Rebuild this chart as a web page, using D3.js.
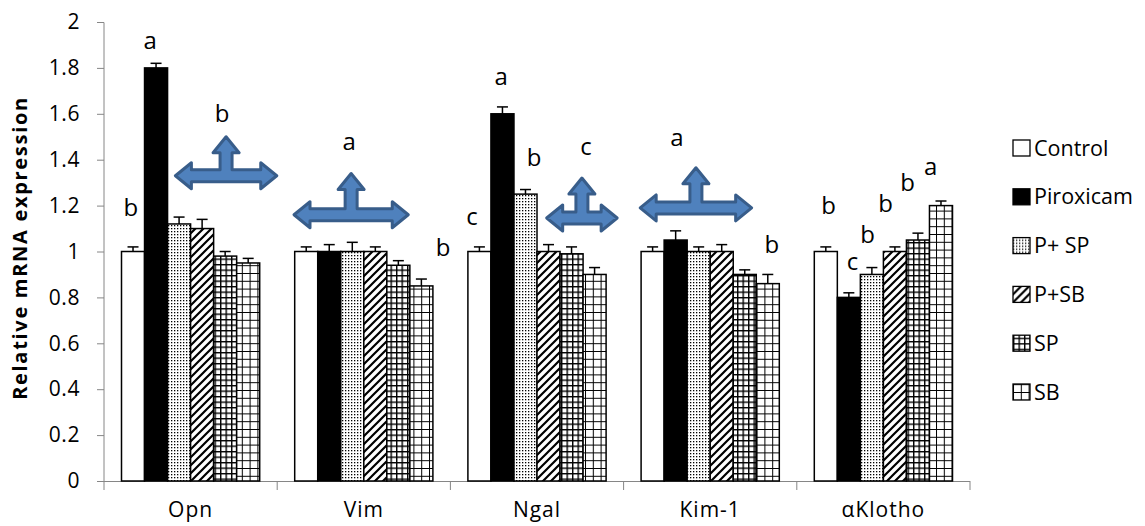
<!DOCTYPE html>
<html>
<head>
<meta charset="utf-8">
<script src="https://cdn.jsdelivr.net/npm/d3@7"></script>
<style>
  body { margin: 0; background: #fff; }
  text { font-family: "Open Sans", "DejaVu Sans", sans-serif; fill: #000; }
</style>
</head>
<body>
<script>
// values
const categories = ["Opn", "Vim", "Ngal", "Kim-1", "αKlotho"];
const seriesNames = ["Control", "Piroxicam", "P+ SP", "P+SB", "SP", "SB"];

const control   = [1.00, 1.00, 1.00, 1.00, 1.00];
const piroxicam = [1.80, 1.00, 1.60, 1.05, 0.80];
const pSP       = [1.12, 1.00, 1.25, 1.00, 0.90];
const pSB       = [1.10, 1.00, 1.00, 1.00, 1.00];
const sp        = [0.98, 0.94, 0.99, 0.90, 1.05];
const sb        = [0.95, 0.85, 0.90, 0.86, 1.20];

const controlErr   = [0.02, 0.02, 0.02, 0.02, 0.02];
const piroxicamErr = [0.02, 0.03, 0.03, 0.04, 0.02];
const pSPErr       = [0.03, 0.04, 0.02, 0.02, 0.03];
const pSBErr       = [0.04, 0.02, 0.03, 0.03, 0.02];
const spErr        = [0.02, 0.02, 0.03, 0.02, 0.03];
const sbErr        = [0.02, 0.03, 0.03, 0.04, 0.02];

const yTicks = [0, 0.2, 0.4, 0.6, 0.8, 1, 1.2, 1.4, 1.6, 1.8, 2];

// significance letters: category, position in bar units, height in data units
const letterCat = [0, 0, 0, 1, 1, 2, 2, 2, 2, 3, 3, 4, 4, 4, 4, 4, 4];
const letterPos = [-0.09, 0.74, 3.87, 1.86, 5.94, -0.32, 0.94, 2.37, 4.63, 1.06, 5.18, 0.12, 1.16, 1.81, 2.6, 3.55, 4.55];
const letterVal = [1.19, 1.92, 1.6, 1.48, 1.015, 1.15, 1.76, 1.41, 1.455, 1.495, 1.03, 1.2, 0.955, 1.075, 1.21, 1.3, 1.37];
const letterTxt = ["b", "a", "b", "a", "b", "c", "a", "b", "c", "a", "b", "b", "c", "b", "b", "b", "a"];

// three-way arrows: category, centre (bar units), half span (bar units), shaft level, tip level
const arrowCat  = [0, 1, 2, 3];
const arrowPos  = [4.04, 1.95, 4.45, 1.88];
const arrowSpan = [2.2, 2.48, 1.53, 2.42];
const arrowVal  = [1.33, 1.16, 1.146, 1.19];
const arrowTip  = [1.50, 1.34, 1.32, 1.365];

const values = [control, piroxicam, pSP, pSB, sp, sb];
const errors = [controlErr, piroxicamErr, pSPErr, pSBErr, spErr, sbErr];
const fills = ["#fff", "#000", "url(#dots)", "url(#diag)", "url(#smallgrid)", "url(#biggrid)"];

const W = 1145, H = 526;
const svg = d3.select(document.body).append("svg")
  .attr("width", W).attr("height", H);

// fill patterns
const defs = svg.append("defs");
const dots = defs.append("pattern").attr("id", "dots")
  .attr("patternUnits", "userSpaceOnUse").attr("width", 3).attr("height", 3);
dots.append("rect").attr("width", 3).attr("height", 3).attr("fill", "#fff");
dots.append("rect").attr("width", 1.3).attr("height", 1.3).attr("fill", "#000");

const diag = defs.append("pattern").attr("id", "diag")
  .attr("patternUnits", "userSpaceOnUse").attr("width", 8).attr("height", 8);
diag.append("rect").attr("width", 8).attr("height", 8).attr("fill", "#fff");
diag.append("path").attr("d", "M-2,10 L10,-2 M-6,6 L6,-6 M2,14 L14,2")
  .attr("stroke", "#000").attr("stroke-width", 2.2);

const sg = defs.append("pattern").attr("id", "smallgrid")
  .attr("patternUnits", "userSpaceOnUse").attr("width", 5.5).attr("height", 5.5);
sg.append("rect").attr("width", 5.5).attr("height", 5.5).attr("fill", "#fff");
sg.append("path").attr("d", "M0,0.7 H5.5 M0.7,0 V5.5")
  .attr("stroke", "#000").attr("stroke-width", 1.4);

const bg = defs.append("pattern").attr("id", "biggrid")
  .attr("patternUnits", "userSpaceOnUse").attr("width", 7.8).attr("height", 7.8);
bg.append("rect").attr("width", 7.8).attr("height", 7.8).attr("fill", "#fff");
bg.append("path").attr("d", "M0,0.5 H7.8 M0.5,0 V7.8")
  .attr("stroke", "#000").attr("stroke-width", 1);

// scales
const x0 = d3.scaleBand().domain(categories).range([104, 970]).padding(0);
const x1 = d3.scaleBand().domain(seriesNames).range([17.5, x0.bandwidth() - 17.5]).padding(0);
const y = d3.scaleLinear().domain([0, 2]).range([481, 22]);
const barX = (c, i) => x0(categories[c]) + x1.step() * i + x1(seriesNames[0]) + x1.bandwidth() / 2;

// y axis
const yAxis = svg.append("g").attr("transform", "translate(104,0)")
  .call(d3.axisLeft(y).tickValues(yTicks).tickFormat(d3.format(".1~f")).tickSize(7).tickPadding(17));
yAxis.selectAll("path,line").attr("stroke", "#868686");
yAxis.selectAll("text").attr("font-size", 21).attr("letter-spacing", 0.6)
  .attr("font-family", "Open Sans").attr("fill", "#000");
yAxis.select(".domain").attr("d", "M-7,22.5H0V481");

// x axis
const xg = svg.append("g");
xg.append("line").attr("x1", 104).attr("x2", 970).attr("y1", 481.5).attr("y2", 481.5)
  .attr("stroke", "#868686");
xg.selectAll(".tk").data(d3.range(categories.length + 1)).enter().append("line")
  .attr("x1", i => i < categories.length ? x0(categories[i]) : x0.range()[1])
  .attr("x2", i => i < categories.length ? x0(categories[i]) : x0.range()[1])
  .attr("y1", 481).attr("y2", 490).attr("stroke", "#868686");
xg.selectAll(".cl").data(categories).enter().append("text")
  .attr("x", d => x0(d) + x0.bandwidth() / 2).attr("y", 517)
  .attr("text-anchor", "middle").attr("font-size", 21).attr("letter-spacing", 1)
  .text(d => d);

// y title
svg.append("text").attr("transform", "translate(27,248) rotate(-90)")
  .attr("text-anchor", "middle").attr("font-weight", "bold").attr("font-size", 20)
  .attr("letter-spacing", 1.7)
  .text("Relative mRNA expression");

// bars
const rows = [];
categories.forEach((c, ci) => seriesNames.forEach((s, si) => {
  rows.push({c, s, si, v: values[si][ci], e: errors[si][ci]});
}));
const bars = svg.append("g");
bars.selectAll("rect").data(rows).enter().append("rect")
  .attr("x", d => x0(d.c) + x1(d.s))
  .attr("y", d => y(d.v))
  .attr("width", x1.bandwidth())
  .attr("height", d => y(0) - y(d.v))
  .attr("fill", d => fills[d.si])
  .attr("stroke", "#000").attr("stroke-width", 1.5);

// error bars (upper only)
const eb = svg.append("g").attr("stroke", "#000").attr("stroke-width", 1.5);
eb.selectAll(".v").data(rows).enter().append("line")
  .attr("x1", d => x0(d.c) + x1(d.s) + x1.bandwidth() / 2)
  .attr("x2", d => x0(d.c) + x1(d.s) + x1.bandwidth() / 2)
  .attr("y1", d => y(d.v)).attr("y2", d => y(d.v + d.e));
eb.selectAll(".h").data(rows).enter().append("line")
  .attr("x1", d => x0(d.c) + x1(d.s) + x1.bandwidth() / 2 - 5.5)
  .attr("x2", d => x0(d.c) + x1(d.s) + x1.bandwidth() / 2 + 5.5)
  .attr("y1", d => y(d.v + d.e)).attr("y2", d => y(d.v + d.e));

// letters
svg.append("g").selectAll("text").data(letterTxt).enter().append("text")
  .attr("x", (d, i) => barX(letterCat[i], letterPos[i]))
  .attr("y", (d, i) => y(letterVal[i]))
  .attr("dy", "0.35em")
  .attr("text-anchor", "middle").attr("font-size", 24)
  .text(d => d);

// arrows
const arrowPath = (cx, cy, hw, top) => {
  const t = 6, hh = 13, hl = 16;
  const p = [
    [cx - hw, cy], [cx - hw + hl, cy - hh], [cx - hw + hl, cy - t], [cx - t, cy - t],
    [cx - t, top + hl], [cx - hh, top + hl], [cx, top], [cx + hh, top + hl], [cx + t, top + hl],
    [cx + t, cy - t], [cx + hw - hl, cy - t], [cx + hw - hl, cy - hh], [cx + hw, cy],
    [cx + hw - hl, cy + hh], [cx + hw - hl, cy + t], [cx - hw + hl, cy + t], [cx - hw + hl, cy + hh]
  ];
  return "M" + p.map(q => q.join(",")).join("L") + "Z";
};
svg.append("g").selectAll("path").data(arrowCat).enter().append("path")
  .attr("d", (d, i) => {
    const cx = barX(d, arrowPos[i]);
    const hw = arrowSpan[i] * x1.step();
    return arrowPath(cx, y(arrowVal[i]), hw, y(arrowTip[i]));
  })
  .attr("fill", "#4F81BD").attr("stroke", "#385D8A").attr("stroke-width", 3)
  .attr("stroke-linejoin", "round");

// legend
const lg = svg.append("g").attr("transform", "translate(1013,148)");
const li = lg.selectAll("g").data(seriesNames).enter().append("g")
  .attr("transform", (d, i) => `translate(0,${i * 48.8})`);
li.append("rect").attr("x", 0).attr("y", -8).attr("width", 17).attr("height", 16)
  .attr("fill", (d, i) => fills[i]).attr("stroke", "#000").attr("stroke-width", 1.3);
li.append("text").attr("x", 21).attr("dy", "0.35em").attr("font-size", 21.5).text(d => d);
</script>
</body>
</html>
